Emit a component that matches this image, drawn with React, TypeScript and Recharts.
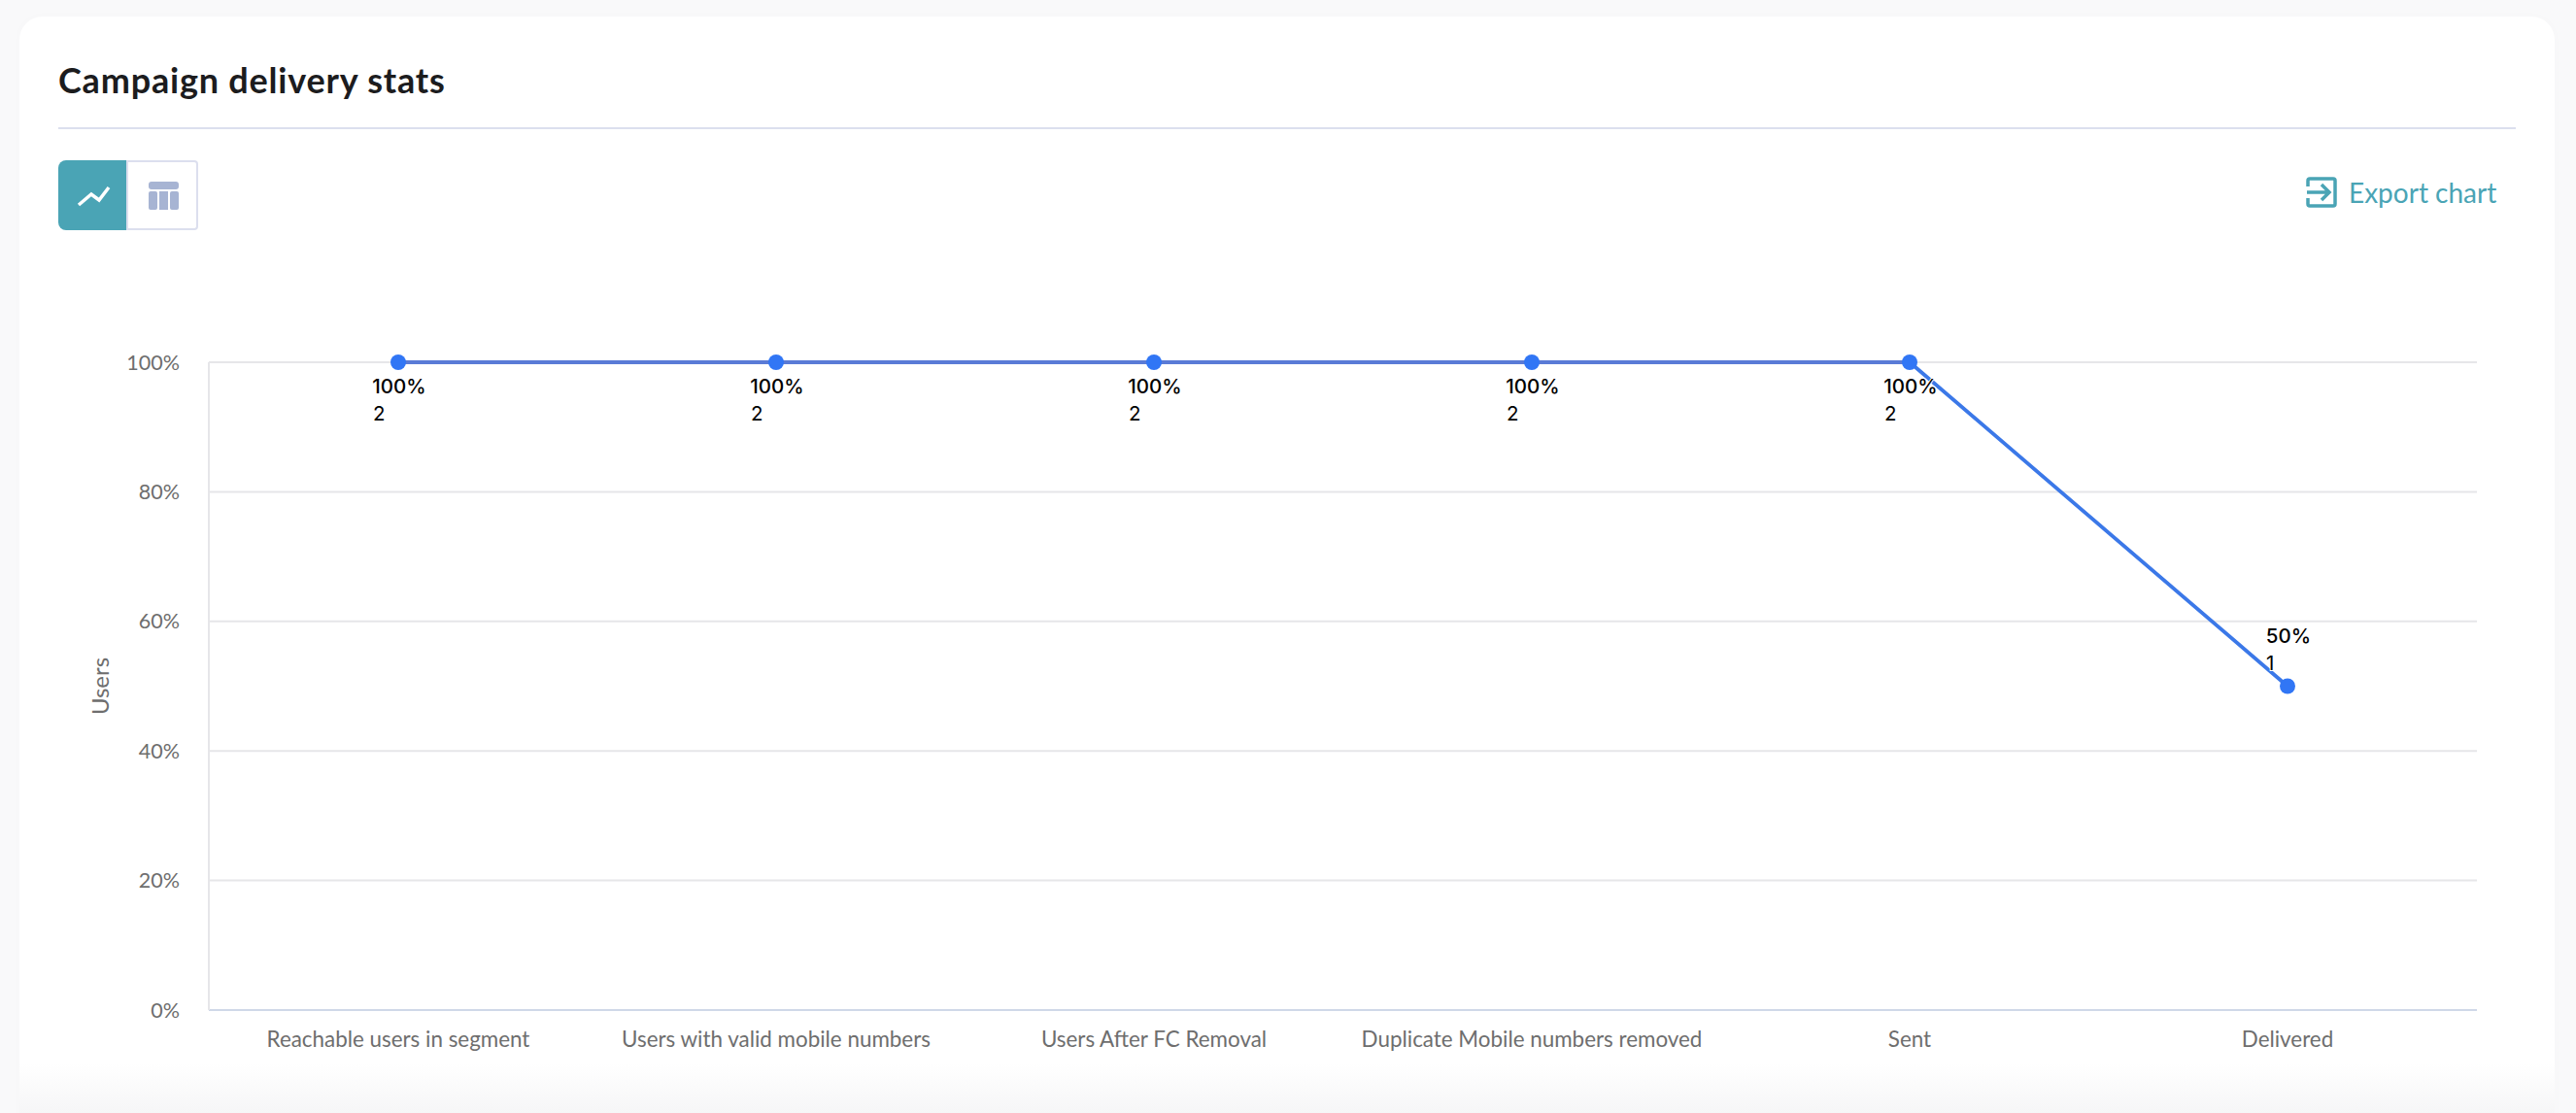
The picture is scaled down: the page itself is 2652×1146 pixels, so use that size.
import React from 'react';
import { LineChart, Line, XAxis, YAxis, CartesianGrid } from 'recharts';

const categories = [
  'Reachable users in segment',
  'Users with valid mobile numbers',
  'Users After FC Removal',
  'Duplicate Mobile numbers removed',
  'Sent',
  'Delivered',
];
const percentValues = [100, 100, 100, 100, 100, 50];
const userCounts = [2, 2, 2, 2, 2, 1];
const yTicks = [0, 20, 40, 60, 80, 100];

const chartData = categories.map((name, i) => ({
  name,
  percent: percentValues[i],
  count: userCounts[i],
}));

const FONT = 'Lato, sans-serif';
const TEAL = '#4aa4b5';
const BLUE = '#3176f5';

// two line label, count is left aligned with the percent text
const PointLabel = (props: any) => {
  const { x, y, index } = props;
  const pct = `${percentValues[index]}%`;
  const halfWidth = pct.length === 4 ? 26 : 22;
  const above = percentValues[index] < 100;
  const top = above ? y - 52 : y + 24;
  const common = {
    fontFamily: 'Inter, sans-serif',
    fontSize: 20.5,
    fill: '#000',
    stroke: '#fff',
    strokeWidth: 2,
    paintOrder: 'stroke',
    dominantBaseline: 'central',
  } as any;
  return (
    <g>
      <text x={x + 1} y={top} textAnchor="middle" fontWeight={500} {...common}>{pct}</text>
      <text x={x - halfWidth} y={top + 28} textAnchor="start" {...common}>{userCounts[index]}</text>
    </g>
  );
};

export default function App() {
  return (
    <div style={{ position: 'absolute', left: 0, top: 0, width: 2652, height: 1146, overflow: 'hidden', background: '#f9f9fa', fontFamily: FONT }}>
      <div style={{ position: 'absolute', left: 20, top: 17, width: 2610, height: 1180, background: '#fff', borderRadius: 24, boxShadow: '0 0 12px rgba(0,0,0,0.015)' }} />

      <div style={{ position: 'absolute', left: 60, top: 58, fontSize: 36, letterSpacing: 0.8, fontWeight: 700, color: '#1c1c1e', lineHeight: '48px', whiteSpace: 'nowrap' }}>
        Campaign delivery stats
      </div>
      <div style={{ position: 'absolute', left: 60, top: 131, width: 2530, height: 2, background: '#dcdfee' }} />

      <div style={{ position: 'absolute', left: 60, top: 165, width: 70, height: 72, background: TEAL, borderRadius: '8px 0 0 8px' }}>
        <svg width="70" height="72" viewBox="0 0 70 72">
          <polyline points="21,46 34,35 42,41 52,28" fill="none" stroke="#fff" strokeWidth="3.5" />
        </svg>
      </div>
      <div style={{ position: 'absolute', left: 130, top: 165, width: 70, height: 68, border: '2px solid #dcdfee', borderRadius: '0 4px 4px 0' }}>
        <svg width="70" height="68" viewBox="0 0 70 68" style={{ display: 'block' }}>
          <rect x="21" y="20" width="31" height="8" rx="3" fill="#a7b4d3" />
          <rect x="21" y="30" width="9" height="19" rx="2" fill="#a7b4d3" />
          <rect x="32" y="30" width="9" height="19" fill="#a7b4d3" />
          <rect x="43" y="30" width="9" height="19" rx="2" fill="#a7b4d3" />
        </svg>
      </div>

      <svg style={{ position: 'absolute', left: 2373, top: 181 }} width="34" height="34" viewBox="0 0 34 34">
        <path d="M3 11V5a2 2 0 0 1 2-2h24a2 2 0 0 1 2 2v24a2 2 0 0 1-2 2H5a2 2 0 0 1-2-2v-6" fill="none" stroke={TEAL} strokeWidth="3.5" />
        <path d="M2 17h22M17 9l8 8-8 8" fill="none" stroke={TEAL} strokeWidth="3.5" />
      </svg>
      <div style={{ position: 'absolute', left: 2418, top: 178, fontSize: 28, color: TEAL, lineHeight: '40px', whiteSpace: 'nowrap' }}>
        Export chart
      </div>

      <div style={{ position: 'absolute', left: 0, top: 0 }}>
        <LineChart width={2652} height={1146} data={chartData} margin={{ top: 373, right: 102, bottom: 76, left: 90 }}>
          <defs>
            {/* flat run reads paler than the drop in the original */}
            <linearGradient id="lineStroke" x1="0" y1="0" x2="1" y2="0">
              <stop offset="80%" stopColor="#5a7bd6" />
              <stop offset="80%" stopColor="#3b78e8" />
            </linearGradient>
          </defs>
          <CartesianGrid horizontal vertical={false} stroke="#e6e6e9" strokeWidth={2} />
          <XAxis
            dataKey="name"
            height={30}
            interval={0}
            padding={{ left: 195, right: 195 }}
            tickLine={false}
            tickMargin={16}
            axisLine={{ stroke: '#cfd8e8', strokeWidth: 2 }}
            tick={{ fontFamily: FONT, fontSize: 22.4, fill: '#6e6e6e' }}
          />
          <YAxis
            width={125}
            domain={[0, 100]}
            ticks={yTicks}
            tickLine={false}
            tickMargin={24}
            tickFormatter={(v: number) => `${v}%`}
            axisLine={{ stroke: '#e6e6e9', strokeWidth: 2 }}
            tick={{ fontFamily: FONT, fontSize: 21.5, fill: '#6e6e6e' }}
            label={{ value: 'Users', angle: -90, position: 'insideLeft', offset: 13, style: { fontFamily: FONT, fontSize: 24, fill: '#6e6e6e', textAnchor: 'middle' } }}
          />
          <Line
            type="linear"
            dataKey="percent"
            stroke="url(#lineStroke)"
            strokeWidth={3.8}
            dot={{ r: 8, fill: BLUE, stroke: BLUE, strokeWidth: 0 }}
            label={<PointLabel />}
            isAnimationActive={false}
          />
        </LineChart>
      </div>

      <div style={{ position: 'absolute', left: 20, top: 1095, width: 2610, height: 51, background: 'linear-gradient(to bottom, rgba(247,247,248,0), #f6f6f7)', pointerEvents: 'none' }} />
    </div>
  );
}
